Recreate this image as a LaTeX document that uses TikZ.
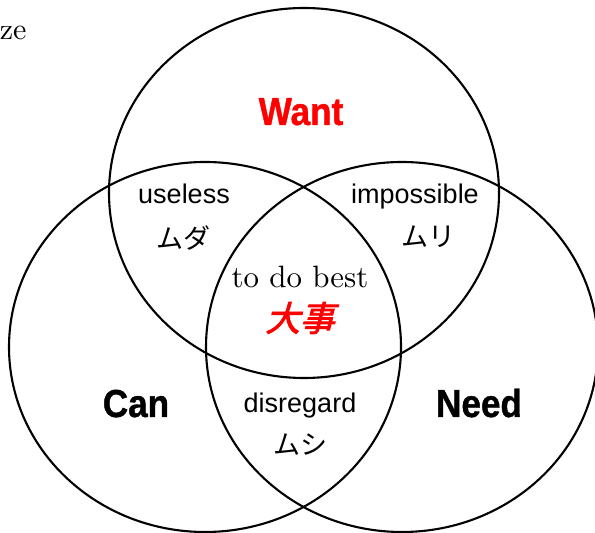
\documentclass[tikz,border=0pt]{standalone}
\usepackage{fontspec}
\usepackage{tikz}
\usetikzlibrary{positioning}
\newfontfamily\jpfont{Noto Sans CJK JP}
\newfontfamily\jpkey[FakeSlant=0.25,FakeBold=2.5]{Noto Sans CJK JP}
\newfontfamily\areafont{Liberation Sans}
\newfontfamily\setfont[FakeStretch=0.9,FakeBold=1]{Liberation Sans}
\tikzset{
    setlabel/.style={anchor=base, font=\setfont\bfseries\fontsize{13}{15}\selectfont},
    arealabel/.style={anchor=base, font=\areafont\fontsize{9}{11}\selectfont},
    kana/.style={font=\jpfont\fontsize{9}{11}\selectfont},
    setline/.style={line width=0.7pt}
}

\begin{document}
\begin{tikzpicture}[x=0.3333pt, y=-0.3333pt]
    \useasboundingbox (0,0) rectangle (595,533);

    % Three sets
    \draw[setline] (304,193) ellipse [x radius=195, y radius=185];
    \draw[setline] (205,347) ellipse [x radius=196, y radius=185];
    \draw[setline] (402,347) ellipse [x radius=196, y radius=185];

    % Set names
    \node[setlabel, text=red] (want) at (301,125) {Want};
    \node[setlabel] (can) at (136,417) {Can};
    \node[setlabel] (need) at (479,417) {Need};

    % Pairwise overlaps
    \node[arealabel] (useless) at (184,204) {useless};
    \node[kana] (muda) at (183,238) {ムダ};
    \node[arealabel] (impossible) at (415,204) {impossible};
    \node[kana] (muri) at (428,237) {ムリ};
    \node[arealabel] (disregard) at (300,413) {disregard};
    \node[kana] (mushi) at (300,445) {ムシ};

    % Centre
    \node[anchor=base, font=\fontsize{10.3}{12}\selectfont] (best) at (300,288) {to do best};
    \node[text=red, font=\jpkey\fontsize{11.5}{13}\selectfont] (daiji) at (300,318) {大事};

    % Text cut at the edge
    \node[anchor=base east, inner sep=0pt] (edge) at (27,40) {ze};
\end{tikzpicture}
\end{document}
